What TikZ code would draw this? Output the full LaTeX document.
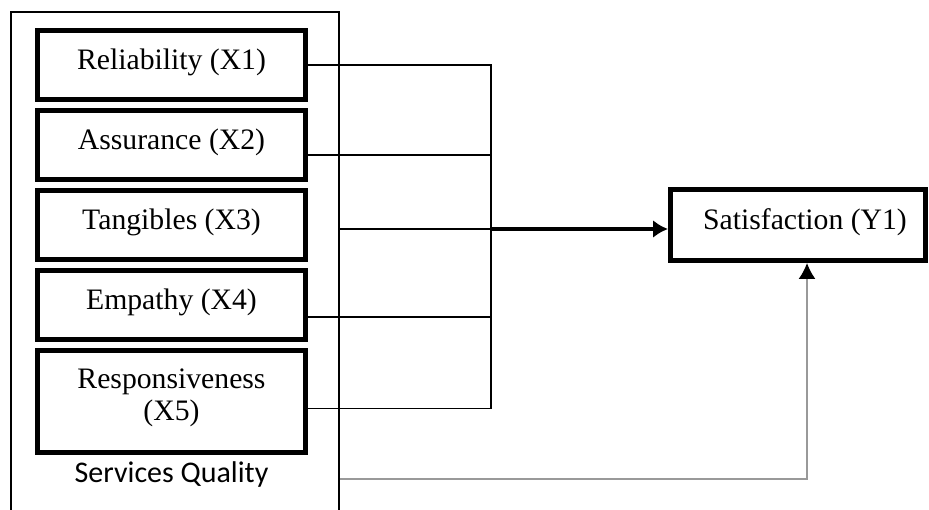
\documentclass[tikz,border=0pt]{standalone}
\usepackage{fontspec}
\setmainfont{Liberation Serif}
\newfontfamily\calibri{Carlito}
\usetikzlibrary{positioning, calc, arrows.meta}

\tikzset{
    dim/.style={draw, line width=5pt, minimum width=268pt, minimum height=69pt,
        align=center, font=\fontsize{29.7}{33}\selectfont},
    oneline/.style={text height=20pt, text depth=10pt},
    link/.style={line width=1.8pt},
}

\begin{document}
\begin{tikzpicture}[x=1pt, y=-1pt]
\useasboundingbox (0,0) rectangle (929,510);
% Define bus position
\def\bus{491}

% Services quality frame
\node[draw, line width=2pt, minimum width=328pt, minimum height=530pt] (sq) at (175,277) {};

% Dimensions
\node[dim, oneline] (rel) at (171.5,65) {Reliability (X1)};
\node[dim, oneline, below=6pt of rel] (asu) {Assurance (X2)};
\node[dim, oneline, below=6pt of asu] (tan) {Tangibles (X3)};
\node[dim, oneline, below=6pt of tan] (emp) {Empathy (X4)};
\node[dim, minimum height=102pt, below=6pt of emp] (res) {Responsiveness\\[-1pt](X5)\rule[-14pt]{0pt}{14pt}};
\node[font=\calibri\fontsize{30}{36}\selectfont, below=3pt of res] (sql) {Services Quality};

% Outcome
\node[dim, oneline, minimum width=255pt, minimum height=71pt] (sat) at (798,225) {\hspace*{14pt}Satisfaction (Y1)};

% Bus
\coordinate (hub) at (\bus,229);
\draw[link] (rel.east) -| ($(res.east -| hub)+(0,7)$) -- ($(res.east)+(0,7)$);
\draw[link] ($(asu.east)+(0,10)$) -- ($(asu.east -| hub)+(0,10)$);
\draw[link] ($(emp.east)+(0,12)$) -- ($(emp.east -| hub)+(0,12)$);
\draw[link, line width=2.5pt] (sq.east |- hub) -- (hub);

\draw[-{Latex[length=15pt, width=18pt]}, line width=4.5pt] (hub) -- (sat.west |- hub);
\draw[gray!80, line width=1.5pt, -{Latex[length=16pt, width=17pt, color=black]}]
    (sq.east |- 0,479) -| ($(sat.south)+(9,0)$);
\end{tikzpicture}
\end{document}
